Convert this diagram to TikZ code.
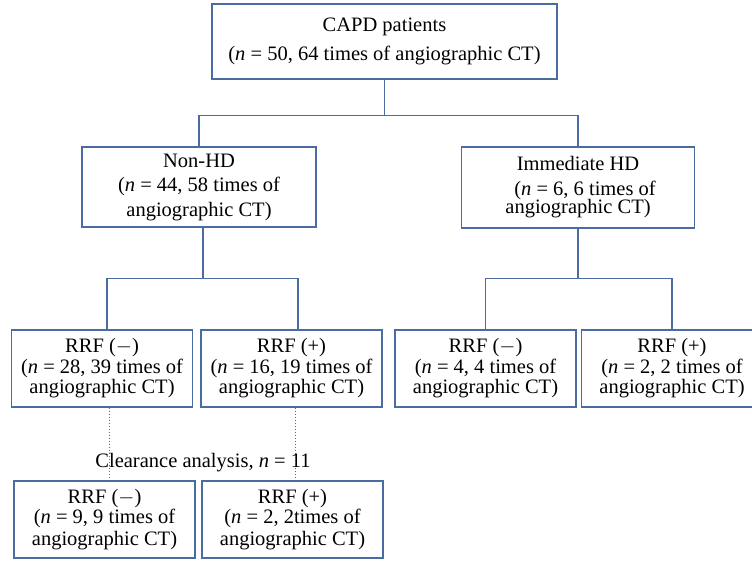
\documentclass[tikz,border=0pt]{standalone}
\usepackage{fontspec}
\setmainfont{Liberation Serif}
\definecolor{boxblue}{RGB}{74,108,160}

\begin{document}
\begin{tikzpicture}[x=1pt,y=-1pt,
    box_node/.style={draw=boxblue, line width=1.3pt, align=center, inner sep=0pt, minimum width=181pt, minimum height=77pt, font=\fontsize{20.5}{24.5}\selectfont},
    rrf_node/.style={box_node, font=\fontsize{20.5}{20.5}\selectfont},
    line_edge/.style={draw=boxblue, line width=1.2pt},
    dot_edge/.style={draw=boxblue, line width=0.8pt, dash pattern=on 1pt off 2pt}]
    \useasboundingbox (0,0) rectangle (752,560);
    \node[box_node, minimum width=345pt, minimum height=75pt] (1) at (384.5, 41.5) {CAPD patients\\[4pt](\textit{n} = 50, 64 times of angiographic CT)};
    \node[box_node, minimum width=234pt, minimum height=80pt] (2) at (199, 187) {Non-HD\\(\textit{n} = 44, 58 times of\\angiographic CT)};
    \node[box_node, minimum width=233pt, minimum height=81pt] (3) at (578, 187.5) {Immediate HD\\\hspace{14pt}(\textit{n} = 6, 6 times of\\[-6pt]angiographic CT)};
    \node[rrf_node] (4) at (102, 368.5) {RRF ($-$)\\(\textit{n} = 28, 39 times of\\angiographic CT)};
    \node[rrf_node] (5) at (291.5, 368.5) {RRF (+)\\(\textit{n} = 16, 19 times of\\angiographic CT)};
    \node[rrf_node] (6) at (485.5, 368.5) {RRF ($-$)\\(\textit{n} = 4, 4 times of\\angiographic CT)};
    \node[rrf_node] (7) at (672, 368.5) {RRF (+)\\(\textit{n} = 2, 2 times of\\angiographic CT)};
    \node[font=\fontsize{20.5}{25}\selectfont, inner sep=0pt] (8) at (203, 463) {Clearance analysis, \textit{n} = 11};
    \node[rrf_node] (9) at (104.5, 519.5) {RRF ($-$)\\(\textit{n} = 9, 9 times of\\[1pt]angiographic CT)};
    \node[rrf_node] (10) at (292.5, 519.5) {RRF (+)\\(\textit{n} = 2, 2times of\\[1pt]angiographic CT)};
    \draw[line_edge] (1.south) -- ++(0,36) -| (2.north);
    \draw[line_edge] (1.south) -- ++(0,36) -| (3.north);
    \draw[line_edge] ([xshift=4pt]2.south) -- ++(0,51) -| ([xshift=5pt]4.north);
    \draw[line_edge] ([xshift=4pt]2.south) -- ++(0,51) -| ([xshift=6.5pt]5.north);
    \draw[line_edge] (3.south) -- ++(0,50) -| (6.north);
    \draw[line_edge] (3.south) -- ++(0,50) -| (7.north);
    \draw[dot_edge] ([xshift=7pt]4.south) -- ([xshift=7pt,yshift=3pt]4.south |- 9.north);
    \draw[dot_edge] ([xshift=3.5pt]5.south) -- ([xshift=3.5pt,yshift=3pt]5.south |- 10.north);
\end{tikzpicture}
\end{document}
